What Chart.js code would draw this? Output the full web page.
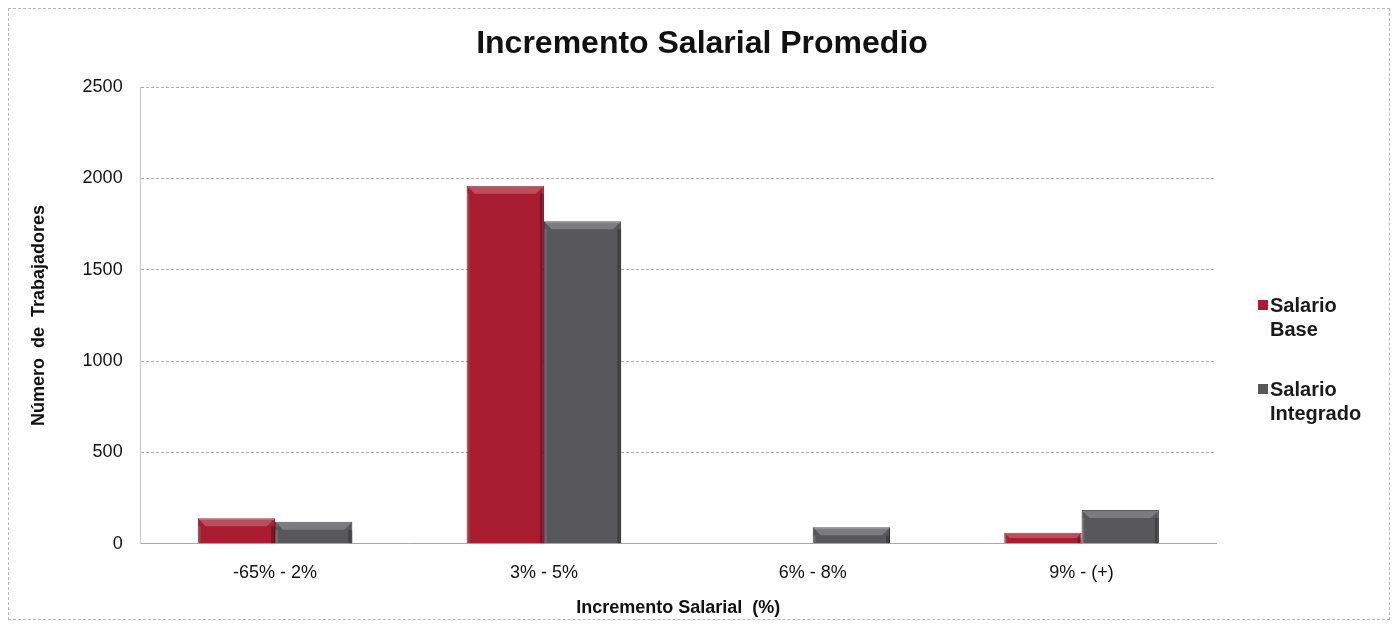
<!DOCTYPE html>
<html>
<head>
<meta charset="utf-8">
<script src="https://cdn.jsdelivr.net/npm/chart.js@4.4.0/dist/chart.umd.min.js"></script>
<style>
  html, body { margin: 0; padding: 0; background: #fff; }
  #frame { position: absolute; left: 8px; top: 8px; width: 1382px; height: 612px; border: 1px dashed #b8b8b8; box-sizing: border-box; }
  #wrap { position: absolute; left: 0; top: 0; width: 1394px; height: 627px; }
  #title { position: absolute; left: 0; width: 1404px; top: 24px; text-align: center; font-family: "Liberation Sans", Arial, sans-serif; font-weight: bold; font-size: 32px; color: #111; }
  #legend { position: absolute; left: 1270px; top: 293px; font-family: "Liberation Sans", Arial, sans-serif; font-weight: bold; font-size: 20px; color: #1a1a1a; line-height: 24px; }
  #legend .item { position: relative; margin-bottom: 36px; }
  #legend .sw { position: absolute; left: -12px; top: 7px; width: 10px; height: 10px; }
</style>
</head>
<body>
<div id="frame"></div>
<div id="wrap"><canvas id="c" width="1394" height="627"></canvas></div>
<div id="title">Incremento Salarial Promedio</div>
<div id="legend"></div>
<script>
var categories = ['-65% - 2%', '3% - 5%', '6% - 8%', '9% - (+)'];
var salarioBase = [140, 1960, 0, 60];
var salarioIntegrado = [120, 1765, 90, 185];
var seriesNames = [['Salario', 'Base'], ['Salario', 'Integrado']];
var seriesColors = ['#a81d30', '#58585a'];

var ctx = document.getElementById('c').getContext('2d');
var font = '"Liberation Sans", Arial, sans-serif';

// little bevel on the top edge of each bar, like the old 3D Excel look
var bevelPlugin = {
  id: 'bevel',
  afterDatasetsDraw: function(chart) {
    var c = chart.ctx;
    chart.data.datasets.forEach(function(ds, i) {
      var meta = chart.getDatasetMeta(i);
      meta.data.forEach(function(bar, j) {
        if (!ds.data[j]) return;
        var w = bar.width, left = bar.x - w / 2, top = bar.y, h = bar.base - bar.y;
        var b = Math.min(8, h / 2);
        c.save();
        c.fillStyle = 'rgba(255,255,255,0.22)';
        c.beginPath();
        c.moveTo(left, top); c.lineTo(left + w, top);
        c.lineTo(left + w - b, top + b); c.lineTo(left + b, top + b);
        c.closePath(); c.fill();
        c.fillStyle = 'rgba(0,0,0,0.25)';
        c.fillRect(left + w - 4, top + b, 4, h - b);
        c.fillStyle = 'rgba(255,255,255,0.10)';
        c.fillRect(left, top + b, 3, h - b);
        c.restore();
      });
    });
  }
};

var chart = new Chart(ctx, {
  type: 'bar',
  data: {
    labels: categories,
    datasets: [
      { label: 'Salario Base', data: salarioBase, backgroundColor: seriesColors[0], borderColor: '#6e1019', borderWidth: 1, categoryPercentage: 0.575, barPercentage: 1 },
      { label: 'Salario Integrado', data: salarioIntegrado, backgroundColor: seriesColors[1], borderColor: '#2e2e2e', borderWidth: 1, categoryPercentage: 0.575, barPercentage: 1 }
    ]
  },
  options: {
    responsive: false,
    animation: false,
    layout: { padding: { left: 24, right: 178, top: 87, bottom: 4 } },
    plugins: {
      legend: { display: false },
      tooltip: { enabled: false }
    },
    scales: {
      x: {
        grid: { display: false },
        border: { color: '#a8a8a8' },
        ticks: { color: '#111', font: { family: font, size: 18 }, padding: 10 },
        title: { display: true, text: 'Incremento Salarial  (%)', color: '#111', font: { family: font, size: 18, weight: 'bold' }, padding: { top: 4 } }
      },
      y: {
        min: 0, max: 2500,
        ticks: { stepSize: 500, color: '#111', font: { family: font, size: 18 }, padding: 18, callback: function(v) { return String(v); } },
        grid: { color: '#ababab', drawTicks: false },
        border: { color: '#c8c8c8', dash: [3, 2] },
        title: { display: true, text: 'Número  de  Trabajadores', color: '#111', font: { family: font, size: 18, weight: 'bold' }, padding: { bottom: 15 } }
      }
    }
  },
  plugins: [bevelPlugin]
});

var legend = document.getElementById('legend');
seriesNames.forEach(function(lines, i) {
  var item = document.createElement('div');
  item.className = 'item';
  item.innerHTML = '<span class="sw" style="background:' + seriesColors[i] + '"></span>' + lines.join('<br>');
  legend.appendChild(item);
});
</script>
</body>
</html>
